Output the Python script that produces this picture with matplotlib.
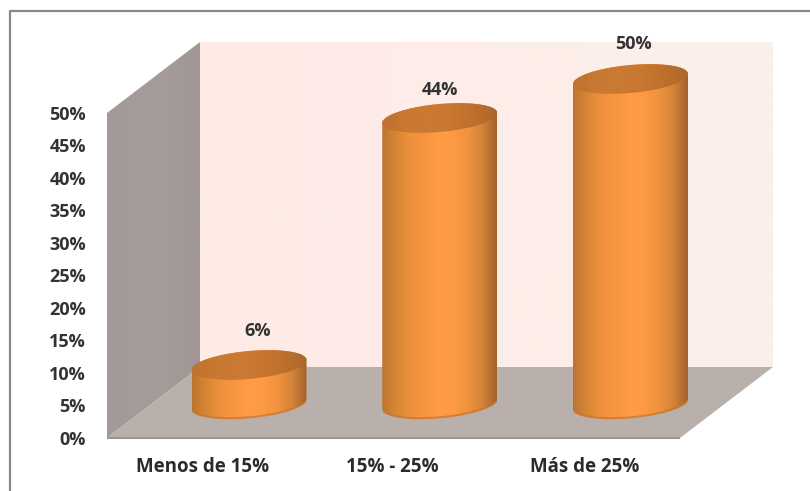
import matplotlib
matplotlib.use('Agg')
import matplotlib.pyplot as plt
from matplotlib.colors import LinearSegmentedColormap
from matplotlib.patches import PathPatch, Polygon
from matplotlib.path import Path
import numpy as np

categories = ['Menos de 15%', '15% - 25%', 'Más de 25%']
values = [6, 44, 50]
value_labels = ['6%', '44%', '50%']
y_ticks = [0, 5, 10, 15, 20, 25, 30, 35, 40, 45, 50]

W, H = 810, 491
PX_PER_PCT = 6.5
PX_PER_CAT = 190.75
ZERO_Y = 438      # pixel row of 0% on the front edge
FIRST_X = 249     # pixel column of first category

# label nudges in pixels
label_dx = [9, 0, 3]
label_gap = [19, 13, 20]
cat_dx = [-46, -47, -46]

fig = plt.figure(figsize=(W / 100, H / 100), dpi=100, facecolor='white')
ax = fig.add_axes([0, 0, 1, 1])
xlim = (-FIRST_X / PX_PER_CAT, (W - FIRST_X) / PX_PER_CAT)
ylim = ((ZERO_Y - H) / PX_PER_PCT, ZERO_Y / PX_PER_PCT)
ax.axis('off')

# depth of the 3d box and cylinder size, in axis units
dx = 93 / PX_PER_CAT
dy = 71 / PX_PER_PCT
x0 = (107 - FIRST_X) / PX_PER_CAT
x1 = (680 - FIRST_X) / PX_PER_CAT
top = 50
rx = 57.5 / PX_PER_CAT
ry = 14 / PX_PER_PCT
tilt = 5 / 57.5 / PX_PER_PCT * PX_PER_CAT  # ellipse leans up to the right
base = 34 / PX_PER_PCT


def gradient(clip, colors, left, right, low, high, z):
    cmap = LinearSegmentedColormap.from_list('g', colors)
    im = ax.imshow(np.linspace(0, 1, 256)[None, :], cmap=cmap, aspect='auto',
                   extent=(left, right, low, high), zorder=z)
    patch = PathPatch(clip, fc='none', ec='none', transform=ax.transData)
    ax.add_patch(patch)
    im.set_clip_path(patch)


# walls
wall = Polygon([(x0, 0), (x0 + dx, dy), (x0 + dx, top + dy), (x0, top)], closed=True)
gradient(wall.get_path(), ['#A39A97', '#A59C99', '#A49B98', '#A09794'],
         x0, x0 + dx, 0, top + dy, 1)
back = Polygon([(x0 + dx, dy), (x1 + dx, dy), (x1 + dx, top + dy), (x0 + dx, top + dy)], closed=True)
gradient(back.get_path(), ['#FEEBE6', '#FEECE8', '#FDEEE8', '#FCF0EA'],
         x0 + dx, x1 + dx, dy, top + dy, 1)
ax.add_patch(Polygon([(x0, 0), (x1, 0), (x1 + dx, dy), (x0 + dx, dy)], closed=True,
                     fc='#B9B0AC', ec='none', zorder=2))
ax.plot([x0, x1], [0, 0], color='#9B9693', lw=1.5, zorder=2, solid_capstyle='butt')

body_colors = ['#BC7431', '#D98735', '#EE913C', '#F8963F', '#FF9C45', '#FD9A43', '#F0923E', '#D4843A', '#A2622C']
top_colors = ['#BE732E', '#C87832', '#CC7A33', '#C87731', '#BD702D', '#AD672B']
t = np.linspace(0, 2 * np.pi, 200)

for i, v in enumerate(values):
    ey = ry * np.sin(t) + tilt * rx * np.cos(t)
    lower = t[t >= np.pi]
    bx = i + rx * np.cos(lower)
    by = base + ry * np.sin(lower) + tilt * rx * np.cos(lower)
    tx = i + rx * np.cos(t)
    ty = base + v + ey

    # body: bottom arc, then up and over the top outline
    upper = t[t <= np.pi]
    ux = i + rx * np.cos(upper)
    uy = base + v + ry * np.sin(upper) + tilt * rx * np.cos(upper)
    verts = np.vstack([np.column_stack([bx, by]), np.column_stack([ux, uy]), [[bx[0], by[0]]]])
    codes = [Path.MOVETO] + [Path.LINETO] * (len(verts) - 2) + [Path.CLOSEPOLY]
    gradient(Path(verts, codes), body_colors, i - rx, i + rx, by.min(), uy.max(), 3)
    ax.plot(bx[8:-8], by[8:-8] + 0.1, color='#C8752C', lw=1.5, alpha=0.7, zorder=4)

    lid = Path(np.column_stack([tx, ty]))
    gradient(lid, top_colors, i - rx, i + rx, ty.min(), ty.max(), 5)

    ax.text(i + label_dx[i] / PX_PER_CAT, ty.max() + label_gap[i] / PX_PER_PCT, value_labels[i],
            ha='center', va='center', fontsize=13, fontweight='bold',
            family='Open Sans', color='#333333', zorder=6)

# value axis labels, category labels
for tick in y_ticks:
    ax.text(x0 - 21 / PX_PER_CAT, tick - 0.25, f'{tick}%', ha='right', va='center', fontsize=13,
            fontweight='bold', family='Open Sans', color='#333333')
for i, c in enumerate(categories):
    ax.text(i + cat_dx[i] / PX_PER_CAT, ylim[0] + 24 / PX_PER_PCT, c, ha='center', va='center',
            fontsize=13.5, fontweight='bold', family='Open Sans', color='#2B2B2B')

# chart frame (top and left only are in view)
ax.plot([(10 - FIRST_X) / PX_PER_CAT, (10 - FIRST_X) / PX_PER_CAT, xlim[1]],
        [ylim[0], (ZERO_Y - 11) / PX_PER_PCT, (ZERO_Y - 11) / PX_PER_PCT],
        color='#8A8A8A', lw=1.6, clip_on=True)

ax.set_xlim(xlim)
ax.set_ylim(ylim)
fig.savefig('out.png', dpi=100)
